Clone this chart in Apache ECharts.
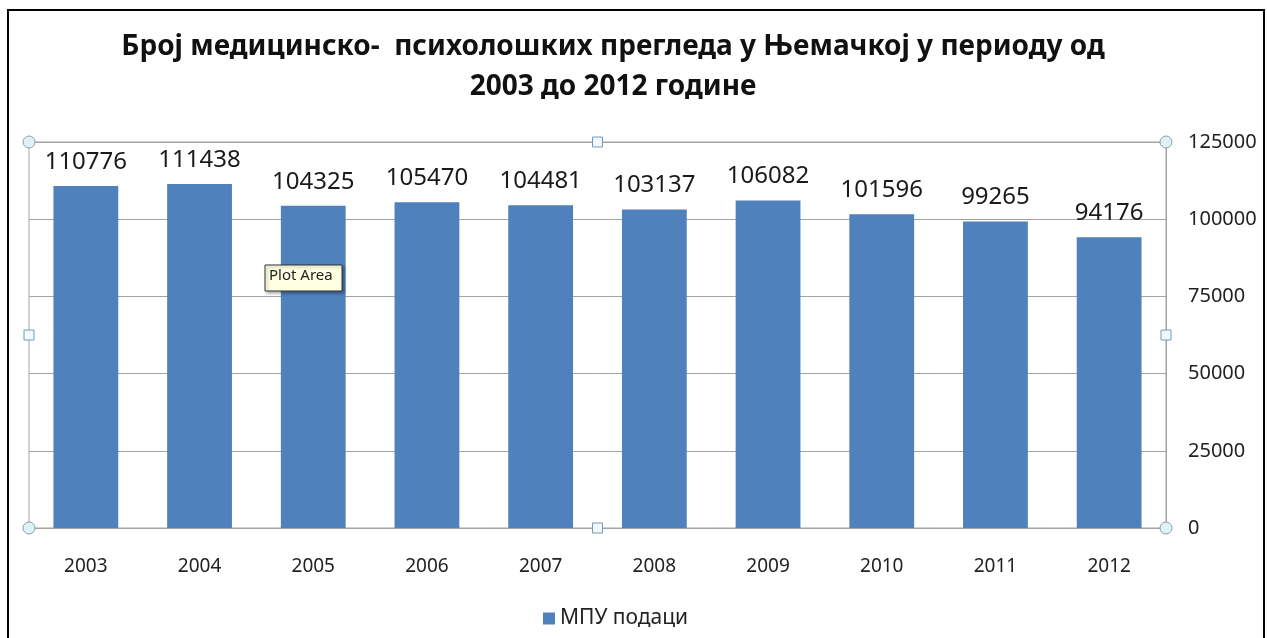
<!DOCTYPE html>
<html>
<head>
<meta charset="utf-8">
<title>МПУ подаци</title>
<script src="https://cdn.jsdelivr.net/npm/echarts@6/dist/echarts.min.js"></script>
<style>
  html, body { margin: 0; padding: 0; background: #fff; }
  #echart { width: 1267px; height: 638px; }
</style>
</head>
<body>
<div id="echart"></div>
<script>
// podaci sa grafika
var years = ['2003', '2004', '2005', '2006', '2007', '2008', '2009', '2010', '2011', '2012'];
var mpuValues = [110776, 111438, 104325, 105470, 104481, 103137, 106082, 101596, 99265, 94176];
var yTicks = [0, 25000, 50000, 75000, 100000, 125000];
var seriesName = 'МПУ подаци';
var titleText = 'Број медицинско-  психолошких прегледа у Њемачкој у периоду од\n2003 до 2012 године';

var chart = echarts.init(document.getElementById('echart'));

// ivice plot area (Excel selekcija)
var L = 29, R = 1166, T = 142, B = 528;
var handles = [];
[[L, T], [R, T], [L, B], [R, B]].forEach(function (p) {
    handles.push({
        type: 'circle', shape: { cx: p[0], cy: p[1], r: 6 },
        style: { fill: '#dff1f5', stroke: '#8aa0ad', lineWidth: 1 }, z: 100
    });
});
[[(L + R) / 2, T], [(L + R) / 2, B], [L, (T + B) / 2], [R, (T + B) / 2]].forEach(function (p) {
    handles.push({
        type: 'rect', shape: { x: p[0] - 5, y: p[1] - 5, width: 10, height: 10 },
        style: { fill: '#f2f8fb', stroke: '#6f9cc0', lineWidth: 1 }, z: 100
    });
});

var option = {
    animation: false,
    backgroundColor: '#fff',
    textStyle: { fontFamily: 'Noto Sans' },
    title: {
        text: titleText,
        left: 608,
        textAlign: 'center',
        top: 22,
        textStyle: {
            fontFamily: 'Noto Sans',
            fontWeight: 'bold',
            fontSize: 28,
            lineHeight: 40,
            color: '#111'
        }
    },
    legend: {
        bottom: 4,
        left: 538,
        icon: 'rect',
        itemWidth: 12,
        itemHeight: 12,
        itemGap: 6,
        data: [seriesName],
        textStyle: { fontSize: 21, color: '#222' }
    },
    grid: {
        left: L,
        right: 1267 - R,
        top: T,
        bottom: 638 - B,
        show: true,
        borderColor: '#a3a3a3',
        borderWidth: 1
    },
    xAxis: {
        type: 'category',
        data: years,
        axisLine: { lineStyle: { color: '#a3a3a3' } },
        axisTick: { show: false },
        axisLabel: { margin: 29, fontSize: 19, color: '#222' }
    },
    yAxis: {
        type: 'value',
        position: 'right',
        min: yTicks[0],
        max: yTicks[yTicks.length - 1],
        interval: yTicks[1] - yTicks[0],
        axisLine: { show: true, lineStyle: { color: '#a3a3a3' } },
        axisTick: { show: false },
        splitLine: { lineStyle: { color: '#a3a3a3' } },
        axisLabel: {
            margin: 22, fontSize: 20, color: '#222',
            formatter: function (v) { return String(v); }
        }
    },
    series: [{
        name: seriesName,
        type: 'bar',
        data: mpuValues,
        barWidth: '57%',
        itemStyle: { color: '#4f81bd' },
        label: {
            show: true,
            position: 'top',
            distance: 12,
            fontSize: 24,
            color: '#1a1a1a'
        }
    }],
    graphic: [{
        type: 'rect',
        shape: { x: 8, y: 10, width: 1256, height: 700 },
        style: { fill: 'none', stroke: '#000', lineWidth: 2 },
        silent: true
    }, {
        type: 'rect',
        shape: { x: 265, y: 265, width: 77, height: 26 },
        style: { fill: '#ffffe1', stroke: '#333', lineWidth: 1, shadowBlur: 3, shadowOffsetX: 2, shadowOffsetY: 2, shadowColor: 'rgba(0,0,0,0.3)' },
        z: 110
    }, {
        type: 'text',
        x: 269, y: 268,
        style: { text: 'Plot Area', fontSize: 15, fontFamily: 'Noto Sans', fill: '#222' },
        z: 111
    }].concat(handles)
};

chart.setOption(option);
</script>
</body>
</html>
